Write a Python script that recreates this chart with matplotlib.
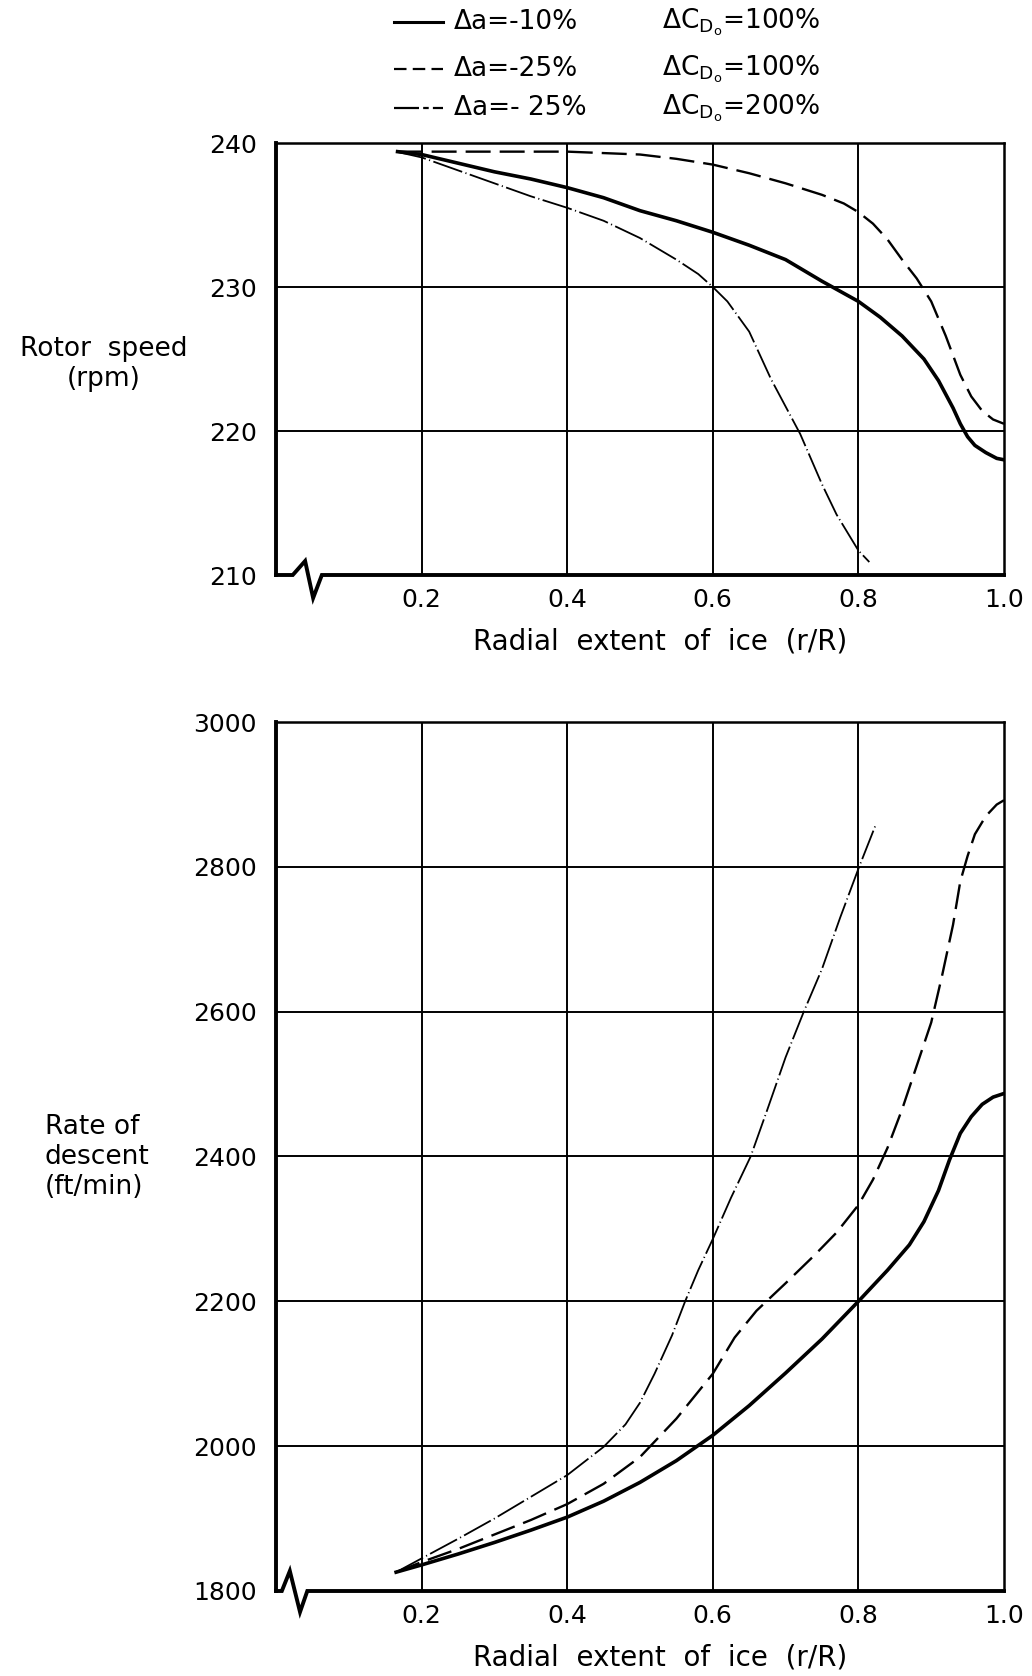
import numpy as np
import matplotlib
matplotlib.use('Agg')
import matplotlib.pyplot as plt
from matplotlib.lines import Line2D

plt.rcParams['font.family'] = ['DejaVu Sans']
plt.rcParams['mathtext.fontset'] = 'dejavusans'
plt.rcParams['lines.scale_dashes'] = False

#=================================================================================================#

# DATA

# Rotor speed (rpm) vs radial extent of ice
x_rs_a = [0.167, 0.2, 0.25, 0.3, 0.35, 0.4, 0.45, 0.5, 0.55, 0.6, 0.65, 0.7, 0.75, 0.8, 0.83, 0.86,
          0.89, 0.91, 0.93, 0.94, 0.95, 0.96, 0.975, 0.99, 1.0]
rs_a   = [239.4, 239.2, 238.6, 238.0, 237.5, 236.9, 236.2, 235.3, 234.6, 233.8, 232.9, 231.9, 230.4,
          229.0, 227.9, 226.6, 225.0, 223.5, 221.6, 220.5, 219.6, 219.0, 218.5, 218.1, 218.0]

x_rs_b = [0.167, 0.2, 0.3, 0.4, 0.5, 0.55, 0.6, 0.65, 0.7, 0.75, 0.78, 0.8, 0.82, 0.84, 0.86, 0.88,
          0.9, 0.92, 0.94, 0.955, 0.97, 0.985, 1.0]
rs_b   = [239.4, 239.4, 239.4, 239.4, 239.2, 238.9, 238.5, 237.9, 237.2, 236.4, 235.8, 235.2, 234.4,
          233.3, 231.9, 230.6, 229.0, 226.6, 223.9, 222.4, 221.4, 220.8, 220.5]

x_rs_c = [0.165, 0.2, 0.25, 0.3, 0.35, 0.4, 0.45, 0.5, 0.55, 0.58, 0.6, 0.62, 0.65, 0.68, 0.7, 0.72,
          0.75, 0.77, 0.8, 0.815]
rs_c   = [239.4, 239.0, 238.1, 237.2, 236.3, 235.5, 234.6, 233.4, 231.9, 230.9, 230.0, 229.0, 226.9,
          223.6, 221.7, 219.8, 216.3, 214.2, 211.7, 210.9]

# Rate of descent (ft/min) vs radial extent of ice
x_rd_a = [0.165, 0.2, 0.25, 0.3, 0.35, 0.4, 0.45, 0.5, 0.55, 0.6, 0.65, 0.7, 0.75, 0.8, 0.84, 0.87,
          0.89, 0.91, 0.925, 0.94, 0.955, 0.97, 0.985, 1.0]
rd_a   = [1826, 1836, 1851, 1867, 1884, 1902, 1924, 1950, 1980, 2015, 2056, 2101, 2148, 2200, 2243,
          2278, 2310, 2353, 2395, 2432, 2455, 2472, 2482, 2487]

x_rd_b = [0.165, 0.2, 0.25, 0.3, 0.35, 0.4, 0.45, 0.5, 0.55, 0.6, 0.63, 0.66, 0.7, 0.74, 0.77, 0.8,
          0.82, 0.84, 0.86, 0.88, 0.9, 0.915, 0.93, 0.94, 0.95, 0.96, 0.975, 0.99, 1.0]
rd_b   = [1826, 1840, 1858, 1878, 1898, 1920, 1948, 1985, 2038, 2100, 2150, 2187, 2225, 2264, 2295,
          2333, 2368, 2412, 2465, 2525, 2585, 2650, 2720, 2780, 2815, 2845, 2870, 2886, 2892]

x_rd_c = [0.165, 0.2, 0.25, 0.3, 0.35, 0.4, 0.45, 0.48, 0.5, 0.52, 0.544, 0.562, 0.58, 0.6, 0.625,
          0.652, 0.675, 0.7, 0.725, 0.75, 0.775, 0.801, 0.823]
rd_c   = [1826, 1845, 1872, 1900, 1930, 1960, 1999, 2030, 2060, 2100, 2153, 2200, 2243, 2286, 2343,
          2400, 2465, 2537, 2600, 2659, 2730, 2800, 2856]

xticks  = [0.2, 0.4, 0.6, 0.8, 1.0]
xlabels = ['0.2', '0.4', '0.6', '0.8', '1.0']
rs_ticks = [210, 220, 230, 240]
rd_ticks = [1800, 2000, 2200, 2400, 2600, 2800, 3000]

leg_a = ['Δa=-10%', 'Δa=-25%', 'Δa=- 25%']
leg_c = [r'$\Delta\mathrm{C}_{\mathrm{D}_{\mathrm{o}}}$=100%',
         r'$\Delta\mathrm{C}_{\mathrm{D}_{\mathrm{o}}}$=100%',
         r'$\Delta\mathrm{C}_{\mathrm{D}_{\mathrm{o}}}$=200%']

#=================================================================================================#

# STYLES

solid   = dict(color='black', lw=2.6, linestyle='-')
dashed  = dict(color='black', lw=1.7, dashes=(18, 6.5))
dashdot = dict(color='black', lw=1.3, dashes=(22, 2.5, 0.8, 2.5))

W, H = 1032, 1676
fig = plt.figure(figsize=(W/100, H/100), dpi=100)
ax1 = fig.add_axes([276/W, 1-575/H, 728/W, 432/H])
ax2 = fig.add_axes([276/W, 1-1591/H, 728/W, 869/H])

def frame(ax, yticks, brk, hpx):
    ax.set_xlim(0, 1.0)
    ax.set_ylim(yticks[0], yticks[-1])
    ax.set_xticks(xticks)
    ax.set_xticklabels(xlabels)
    ax.set_yticks(yticks)
    ax.tick_params(length=0, labelsize=18)
    ax.tick_params(axis='y', pad=14)
    ax.tick_params(axis='x', pad=9)
    for v in xticks[:-1]:
        ax.axvline(v, color='black', lw=1.4, zorder=1)
    for v in yticks[1:-1]:
        ax.axhline(v, color='black', lw=1.4, zorder=1)
    ax.spines['left'].set_linewidth(2.8)
    ax.spines['top'].set_linewidth(1.8)
    ax.spines['right'].set_linewidth(1.8)
    ax.spines['bottom'].set_visible(False)
    # bottom axis line with the break mark
    x0, x1, x2, x3, up, dn = brk
    ax.plot([0, x0, x1, x2, x3, 1.0], [0, 0, up/hpx, -dn/hpx, 0, 0],
            transform=ax.get_xaxis_transform(), color='black', lw=2.8,
            clip_on=False, solid_joinstyle='miter', zorder=5)
    ax.set_xlabel('Radial  extent  of  ice  (r/R)', fontsize=20)
    ax.xaxis.set_label_coords(0.527, -52/hpx)

frame(ax1, rs_ticks, (0.023, 0.040, 0.051, 0.063, 14, 23), 432)
frame(ax2, rd_ticks, (0.008, 0.019, 0.033, 0.043, 20, 21), 869)

ax1.plot(x_rs_a, rs_a, **solid, zorder=3)
ax1.plot(x_rs_b, rs_b, **dashed, zorder=3)
ax1.plot(x_rs_c, rs_c, **dashdot, zorder=3)

ax2.plot(x_rd_a, rd_a, **solid, zorder=3)
ax2.plot(x_rd_b, rd_b, **dashed, zorder=3)
ax2.plot(x_rd_c, rd_c, **dashdot, zorder=3)

fig.text(104/W, 1-364/H, 'Rotor  speed\n(rpm)', fontsize=19, ha='center', va='center',
         multialignment='center', linespacing=1.15)
fig.text(45/W, 1-1157/H, 'Rate of\ndescent\n(ft/min)', fontsize=19, ha='left', va='center',
         multialignment='left', linespacing=1.2)

# Legend
rows = [22, 69, 108]
leg_styles = [dict(color='black', lw=2.2),
              dict(color='black', lw=1.6, dashes=(9, 4.5)),
              dict(color='black', lw=1.6, dashes=(18, 3, 4, 3))]
for r, st, ta, tc in zip(rows, leg_styles, leg_a, leg_c):
    y = 1 - r/H
    fig.add_artist(Line2D([394/W, 443/W], [y, y], **st))
    fig.text(454/W, y, ta, fontsize=19, ha='left', va='center')
    fig.text(662/W, y, tc, fontsize=19, ha='left', va='center')

fig.savefig('out.png', dpi=100)
